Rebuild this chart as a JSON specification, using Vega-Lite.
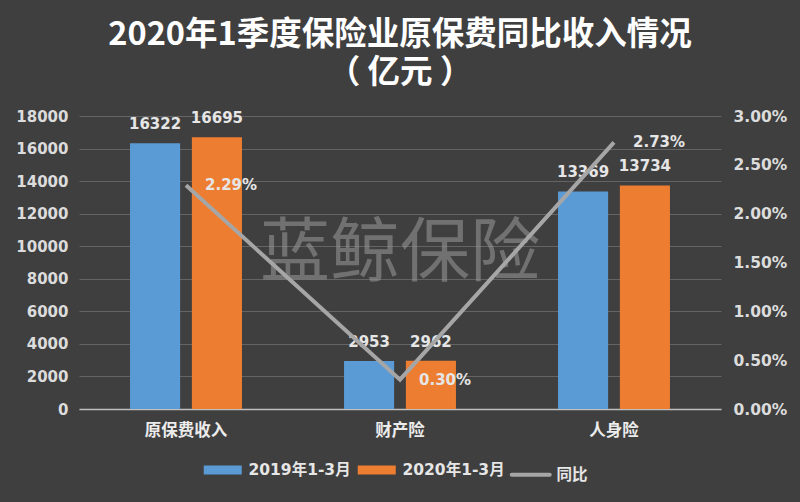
{
  "$schema": "https://vega.github.io/schema/vega-lite/v6.json",
  "autosize": {"type": "none"},
  "width": 642,
  "height": 293,
  "padding": {"left": 79, "top": 116, "right": 79, "bottom": 93},
  "background": "#3f3f3f",
  "title": {
    "text": ["2020年1季度保险业原保费同比收入情况", "（ 亿元 ）"],
    "fontSize": 32.5,
    "fontWeight": "bold",
    "font": "Noto Sans CJK SC",
    "color": "#ffffff",
    "lineHeight": 38,
    "anchor": "middle",
    "offset": 20
  },
  "config": {
    "font": "Noto Sans CJK SC",
    "view": {"stroke": null}
  },
  "datasets": {
    "bars": [
      {"category": "原保费收入", "series": "2019年1-3月", "value": 16322},
      {"category": "原保费收入", "series": "2020年1-3月", "value": 16695},
      {"category": "财产险", "series": "2019年1-3月", "value": 2953},
      {"category": "财产险", "series": "2020年1-3月", "value": 2962},
      {"category": "人身险", "series": "2019年1-3月", "value": 13369},
      {"category": "人身险", "series": "2020年1-3月", "value": 13734}
    ],
    "growth": [
      {"category": "原保费收入", "series": "同比", "pct": 0.0229},
      {"category": "财产险", "series": "同比", "pct": 0.0030},
      {"category": "人身险", "series": "同比", "pct": 0.0273}
    ],
    "mark": [
      {"category": "财产险", "label": "蓝鲸保险", "value": 9450}
    ]
  },
  "encoding": {
    "x": {
      "field": "category",
      "type": "nominal",
      "sort": ["原保费收入", "财产险", "人身险"],
      "scale": {"paddingInner": 0.477, "paddingOuter": 0.2385},
      "axis": {
        "title": null,
        "labelAngle": 0,
        "labelFont": "Noto Sans CJK SC",
        "labelFontSize": 16.5,
        "labelFontWeight": "bold",
        "labelColor": "#ececec",
        "labelPadding": 13,
        "ticks": false,
        "domainColor": "#bfbfbf",
        "domainWidth": 1.5,
        "grid": false
      }
    }
  },
  "layer": [
    {
      "encoding": {
        "y": {
          "field": "value",
          "type": "quantitative",
          "scale": {"domain": [0, 18000], "nice": false},
          "axis": {
            "title": null,
            "values": [0, 2000, 4000, 6000, 8000, 10000, 12000, 14000, 16000, 18000],
            "format": "d",
            "labelOverlap": false,
            "labelFont": "DejaVu Sans",
            "labelFontSize": 15,
            "labelFontWeight": "bold",
            "labelColor": "#dcdcdc",
            "labelPadding": 11,
            "ticks": false,
            "domain": false,
            "grid": true,
            "gridColor": "#646464",
            "gridWidth": 1
          }
        }
      },
      "layer": [
        {
          "data": {"name": "bars"},
          "mark": {"type": "bar"},
          "encoding": {
            "xOffset": {
              "field": "series",
              "type": "nominal",
              "scale": {"paddingInner": 0.19, "paddingOuter": 0}
            },
            "color": {
              "field": "series",
              "type": "nominal",
              "scale": {
                "domain": ["2019年1-3月", "2020年1-3月", "同比"],
                "range": ["#5b9bd5", "#ed7d31", "#a6a6a6"]
              },
              "legend": {
                "title": null,
                "orient": "none",
                "direction": "horizontal",
                "legendX": 136,
                "legendY": 346,
                "gridAlign": "all",
                "symbolType": "stroke",
                "symbolSize": 1444,
                "symbolStrokeWidth": 9,
                "labelFont": "DejaVu Sans, Noto Sans CJK SC",
                "labelFontSize": 15.5,
                "labelFontWeight": "bold",
                "labelColor": "#e6e6e6",
                "labelOffset": 18,
                "columnPadding": -12,
                "encode": {
                  "symbols": {
                    "update": {
                      "stroke": {"scale": "color", "field": "value"},
                      "strokeWidth": {"signal": "datum.value === '同比' ? 4 : 9"},
                      "strokeCap": {"signal": "datum.value === '同比' ? 'round' : 'butt'"}
                    }
                  }
                }
              }
            }
          }
        },
        {
          "data": {"name": "bars"},
          "mark": {
            "type": "text",
            "baseline": "bottom",
            "dy": -11,
            "font": "DejaVu Sans",
            "fontSize": 15,
            "fontWeight": "bold",
            "color": "#e6e6e6"
          },
          "encoding": {
            "xOffset": {"field": "series", "type": "nominal"},
            "text": {"field": "value", "type": "quantitative", "format": "d"}
          }
        },
        {
          "data": {"name": "mark"},
          "mark": {
            "type": "text",
            "fontSize": 70,
            "fontWeight": "normal",
            "color": "#9a9a9a",
            "opacity": 0.55,
            "baseline": "middle"
          },
          "encoding": {
            "text": {"field": "label", "type": "nominal"}
          }
        }
      ]
    },
    {
      "encoding": {
        "y": {
          "field": "pct",
          "type": "quantitative",
          "scale": {"domain": [0, 0.03], "nice": false},
          "axis": {
            "title": null,
            "orient": "right",
            "values": [0, 0.005, 0.01, 0.015, 0.02, 0.025, 0.03],
            "format": ".2%",
            "labelOverlap": false,
            "labelFont": "DejaVu Sans",
            "labelFontSize": 15.5,
            "labelFontWeight": "bold",
            "labelColor": "#dcdcdc",
            "labelPadding": 12,
            "ticks": false,
            "domain": false,
            "grid": false
          }
        }
      },
      "layer": [
        {
          "data": {"name": "growth"},
          "mark": {"type": "line", "strokeWidth": 4},
          "encoding": {
            "color": {"field": "series", "type": "nominal"}
          }
        },
        {
          "data": {"name": "growth"},
          "mark": {
            "type": "text",
            "align": "left",
            "baseline": "middle",
            "dx": 19,
            "font": "DejaVu Sans",
            "fontSize": 15,
            "fontWeight": "bold",
            "color": "#e6e6e6"
          },
          "encoding": {
            "text": {"field": "pct", "type": "quantitative", "format": ".2%"}
          }
        }
      ]
    }
  ],
  "resolve": {"scale": {"y": "independent"}}
}
